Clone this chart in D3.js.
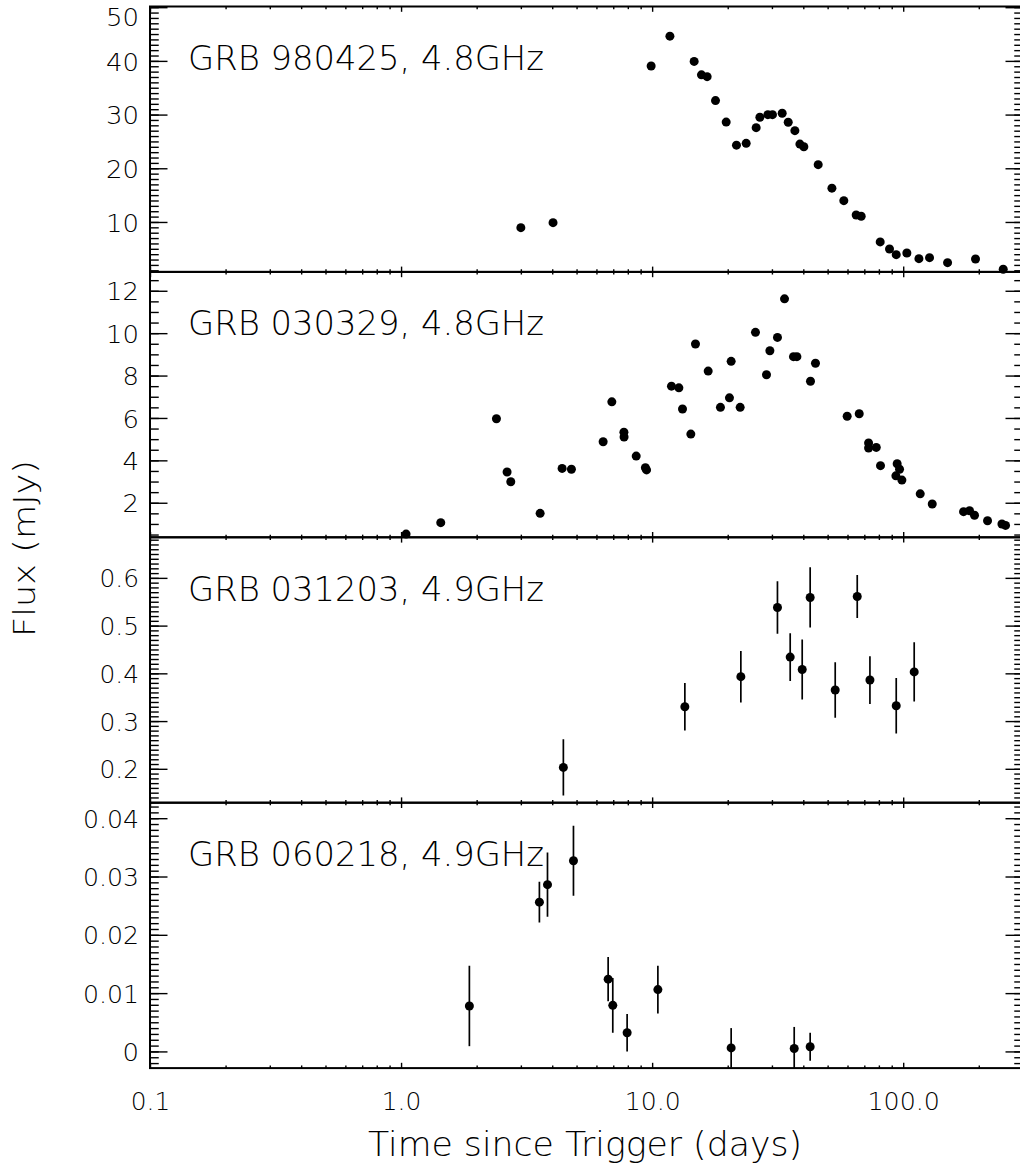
<!DOCTYPE html>
<meta charset="utf-8">
<title>GRB radio light curves</title>
<style>

body {
  margin: 0px;
  background: #fff;
}

svg {
  display: block;
  background: #fff;
}

text {
  font-family: "DejaVu Sans", sans-serif;
  font-weight: 200;
  fill: #000;
}

.frame {
  fill: none;
  stroke: #000;
  stroke-width: 2;
}

.tick line {
  stroke: #000;
  stroke-width: 1.4;
}

</style>

<script src="https://cdnjs.cloudflare.com/ajax/libs/d3/7.8.5/d3.min.js"></script>

<body>

<script>

// GRB 980425, 4.8 GHz
var t980425 = [3.0, 4.03, 9.91, 11.77, 14.70, 15.72, 16.56, 17.88, 19.72, 21.67, 23.69, 25.96,
  26.86, 28.9, 30.15, 32.96, 34.83, 37.03, 38.77, 40.2, 45.85, 52.0, 58.0, 64.96, 68.03,
  80.98, 88.2, 93.8, 103.4, 115.5, 127.3, 150.2, 194.1, 250.2];
var f980425 = [8.94, 9.87, 39.05, 44.6, 39.9, 37.4, 37.06, 32.6, 28.6, 24.3, 24.65, 27.56,
  29.5, 29.98, 29.98, 30.24, 28.57, 27.0, 24.5, 24.0, 20.67, 16.3, 13.97, 11.3, 11.06,
  6.28, 4.97, 3.91, 4.23, 3.17, 3.35, 2.42, 3.11, 1.19];

// GRB 030329, 4.8 GHz
var t030329 = [1.047, 1.439, 2.398, 2.644, 2.735, 3.58, 4.38, 4.77, 6.38, 6.91, 7.72, 7.73,
  8.64, 9.4, 9.5, 11.94, 12.78, 13.21, 14.26, 14.88, 16.72, 18.71, 20.32, 20.64, 22.42,
  25.80, 28.54, 29.44, 31.56, 33.67, 36.55, 37.72, 42.73, 44.73, 59.8, 66.8, 72.8, 72.8,
  78.1, 81.2, 94.6, 96.7, 93.5, 98.8, 116.9, 130.5, 173.9, 183.7, 192.3, 216.7, 247.3, 255.6];
var f030329 = [0.52, 1.06, 5.96, 3.45, 2.99, 1.50, 3.62, 3.58, 4.88, 6.76, 5.33, 5.10,
  4.20, 3.65, 3.55, 7.50, 7.42, 6.42, 5.24, 9.49, 8.21, 6.50, 6.95, 8.67, 6.50,
  10.04, 8.04, 9.17, 9.80, 11.62, 8.89, 8.89, 7.73, 8.58, 6.08, 6.20, 4.82, 4.58,
  4.61, 3.75, 3.84, 3.58, 3.27, 3.07, 2.42, 1.94, 1.58, 1.62, 1.41, 1.15, 1.00, 0.93];

// GRB 031203, 4.9 GHz
var t031203 = [4.43, 13.5, 22.56, 31.56, 35.47, 39.6, 42.6, 53.6, 65.6, 73.7, 93.8, 110.6];
var f031203 = [0.203, 0.330, 0.393, 0.538, 0.434, 0.408, 0.559, 0.365, 0.561, 0.386, 0.332, 0.403];
var e031203 = [0.059, 0.050, 0.054, 0.055, 0.050, 0.063, 0.063, 0.058, 0.045, 0.050, 0.058, 0.062];

// GRB 060218, 4.9 GHz
var t060218 = [1.871, 3.556, 3.83, 4.86, 6.68, 6.97, 7.95, 10.54, 20.64, 36.8, 42.6];
var f060218 = [0.0078, 0.0256, 0.0286, 0.0327, 0.0124, 0.0079, 0.0032, 0.0106, 0.0006, 0.0005, 0.0008];
var e060218 = [0.0069, 0.0035, 0.0055, 0.0060, 0.0038, 0.0047, 0.0032, 0.0041, 0.0034, 0.0037, 0.0024];

var xTicks = [0.1, 1, 10, 100];
var xTickLabels = ["0.1", "1.0", "10.0", "100.0"];

var width = 1020, height = 1171;
var left = 150, plotW = 873, top0 = 6.5, panelH = 265.4;
var yTickLen = 17.5, xTickLen = 5.3;

var x = d3.scaleLog()
    .domain([0.1, 300])
    .range([left, left + plotW]);

var xMinor = [];
[0.1, 1, 10, 100].forEach(function(d) {
  for (var k = 2; k <= 9; k++) if (d * k <= 300) xMinor.push(d * k);
});

function steps(a, b, s) {
  var out = [];
  for (var i = Math.ceil(a / s - 1e-9); i * s <= b + 1e-9; i++) out.push(+(i * s).toFixed(6));
  return out;
}

// the plot font has wide digits, so stretch labels to its widths
function labelWidth(s) {
  var w = 0;
  for (var c of s) w += (c === "." ? 6.5 : 16.5);
  return w;
}

function stretch(sel) {
  sel.each(function() {
    var s = this.textContent;
    if (s) d3.select(this).attr("textLength", labelWidth(s)).attr("lengthAdjust", "spacingAndGlyphs");
  });
}

var panels = [
  { name: "GRB 980425, 4.8GHz", t: t980425, f: f980425, dom: [0.7, 50.13],
    major: [10, 20, 30, 40, 50], minor: 1, fmt: d3.format("d") },
  { name: "GRB 030329, 4.8GHz", t: t030329, f: f030329, dom: [0.37, 12.89],
    major: [2, 4, 6, 8, 10, 12], minor: 0.5, fmt: d3.format("d") },
  { name: "GRB 031203, 4.9GHz", t: t031203, f: f031203, e: e031203, dom: [0.129, 0.685],
    major: [0.2, 0.3, 0.4, 0.5, 0.6], minor: 0.01, fmt: d3.format(".1f") },
  { name: "GRB 060218, 4.9GHz", t: t060218, f: f060218, e: e060218, dom: [-0.00286, 0.04266],
    major: [0, 0.01, 0.02, 0.03, 0.04], minor: 0.001,
    fmt: function(d) { return d === 0 ? "0" : d3.format(".2f")(d); } }
];

var svg = d3.select("body").append("svg")
    .attr("width", width)
    .attr("height", height);

panels.forEach(function(p, i) {
  var y0 = top0 + i * panelH, y1 = y0 + panelH;
  var y = d3.scaleLinear().domain(p.dom).range([y1, y0]);
  var g = svg.append("g");

  g.append("clipPath").attr("id", "clip" + i)
    .append("rect").attr("x", left).attr("y", y0).attr("width", plotW).attr("height", panelH);

  // y axes, left and right, ticks pointing inward
  var minorVals = steps(p.dom[0], p.dom[1], p.minor);
  g.append("g").attr("transform", "translate(" + left + ",0)")
      .call(d3.axisLeft(y).tickValues(minorVals).tickSizeInner(-yTickLen / 2).tickSizeOuter(0).tickFormat(""));
  g.append("g").attr("transform", "translate(" + left + ",0)")
      .call(d3.axisLeft(y).tickValues(p.major).tickSizeInner(-yTickLen).tickSizeOuter(0)
        .tickPadding(11).tickFormat(p.fmt))
      .call(function(a) {
        a.selectAll("text").attr("font-size", 24).attr("dy", "0.38em")
          .attr("y", function(d) { return Math.max(0, 16 - y(d)); })
          .call(stretch);
      });
  g.append("g").attr("transform", "translate(" + (left + plotW) + ",0)")
      .call(d3.axisRight(y).tickValues(minorVals).tickSizeInner(-yTickLen / 2).tickSizeOuter(0).tickFormat(""));
  g.append("g").attr("transform", "translate(" + (left + plotW) + ",0)")
      .call(d3.axisRight(y).tickValues(p.major).tickSizeInner(-yTickLen).tickSizeOuter(0).tickFormat(""));

  // x axes, top and bottom
  g.append("g").attr("transform", "translate(0," + y0 + ")")
      .call(d3.axisTop(x).tickValues(xMinor).tickSizeInner(-xTickLen / 2).tickSizeOuter(0).tickFormat(""));
  g.append("g").attr("transform", "translate(0," + y0 + ")")
      .call(d3.axisTop(x).tickValues(xTicks).tickSizeInner(-xTickLen).tickSizeOuter(0).tickFormat(""));
  g.append("g").attr("transform", "translate(0," + y1 + ")")
      .call(d3.axisBottom(x).tickValues(xMinor).tickSizeInner(-xTickLen / 2).tickSizeOuter(0).tickFormat(""));
  var bx = g.append("g").attr("transform", "translate(0," + y1 + ")")
      .call(d3.axisBottom(x).tickValues(xTicks).tickSizeInner(-xTickLen).tickSizeOuter(0)
        .tickPadding(24)
        .tickFormat(function(d, k) { return i === panels.length - 1 ? xTickLabels[k] : ""; }));
  bx.selectAll("text").attr("font-size", 25).call(stretch);

  g.selectAll(".domain").remove();

  g.append("rect").attr("class", "frame")
      .attr("x", left).attr("y", y0).attr("width", plotW).attr("height", panelH);

  // error bars
  if (p.e) {
    g.append("g").attr("clip-path", "url(#clip" + i + ")")
      .selectAll("line")
      .data(p.t)
      .enter().append("line")
        .attr("x1", function(d) { return x(d); })
        .attr("x2", function(d) { return x(d); })
        .attr("y1", function(d, k) { return y(p.f[k] - p.e[k]); })
        .attr("y2", function(d, k) { return y(p.f[k] + p.e[k]); })
        .attr("stroke", "#000")
        .attr("stroke-width", 1.7);
  }

  g.append("g").selectAll("circle")
      .data(p.t)
      .enter().append("circle")
        .attr("cx", function(d) { return x(d); })
        .attr("cy", function(d, k) { return y(p.f[k]); })
        .attr("r", 4.5)
        .attr("fill", "#000");

  g.append("text")
      .attr("x", 188)
      .attr("y", y0 + 63.5)
      .attr("font-size", 33)
      .attr("textLength", 356)
      .attr("lengthAdjust", "spacingAndGlyphs")
      .text(p.name);
});

svg.append("text")
    .attr("x", 585)
    .attr("y", 1156)
    .attr("text-anchor", "middle")
    .attr("font-size", 33)
    .attr("textLength", 434)
    .attr("lengthAdjust", "spacingAndGlyphs")
    .text("Time since Trigger (days)");

svg.append("text")
    .attr("transform", "translate(35,548.5) rotate(-90)")
    .attr("text-anchor", "middle")
    .attr("font-size", 30)
    .attr("textLength", 177)
    .attr("lengthAdjust", "spacingAndGlyphs")
    .text("Flux (mJy)");

</script>
